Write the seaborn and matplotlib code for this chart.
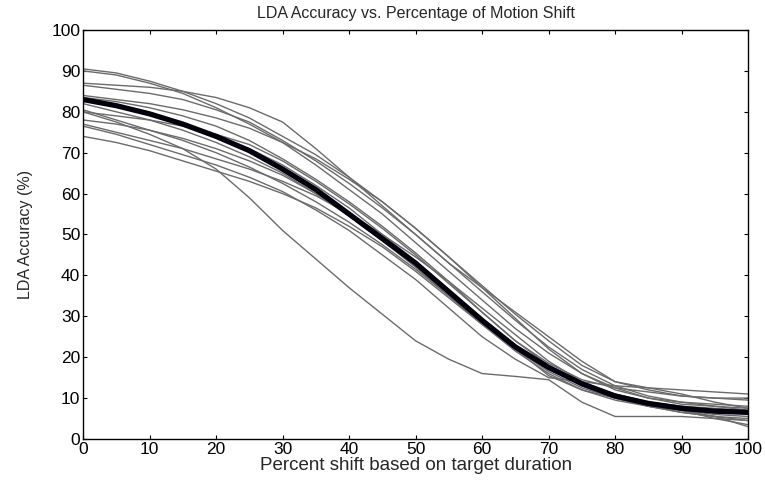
import numpy as np
import pandas as pd
import matplotlib
matplotlib.use("Agg")
import matplotlib.pyplot as plt
import seaborn as sns

shift = [0, 5, 10, 15, 20, 25, 30, 35, 40, 45, 50, 55, 60, 65, 70, 75, 80, 85, 90, 95, 100]

run_01 = [90.5, 89.5, 87.5, 85, 82, 78.5, 74, 69.5, 64, 58, 51.5, 44.5, 37.5, 30.5, 24, 18, 14, 12, 10.5, 10, 9.5]
run_02 = [90, 89, 87, 84.5, 81, 77, 72.5, 67, 61, 55, 48, 41, 34, 27, 21, 16, 12.5, 10, 8.5, 8, 7.5]
run_03 = [87, 86.5, 86, 85, 83.5, 81, 77.5, 71, 64, 57, 50, 43, 37, 31, 25, 19, 14, 12.5, 12, 11.5, 11]
run_04 = [84, 83, 82, 80.5, 78.5, 76, 72.5, 68.5, 63.5, 58, 51.5, 44.5, 37, 29.5, 22, 16, 12, 10, 9, 8.5, 8]
run_05 = [83.5, 82.5, 81, 79, 76.5, 73, 68.5, 63.5, 58, 52, 45.5, 38.5, 31, 24, 18, 14, 11, 9, 8, 7.5, 7]
run_06 = [80, 79, 78, 76.5, 74.5, 72, 68, 63, 57.5, 51.5, 45, 38, 31, 24, 18.5, 14.5, 12.5, 11.5, 10.5, 10, 10]
run_07 = [80, 77.5, 74.5, 71, 66, 59, 51, 44, 37, 30.5, 24, 19.5, 16, 15.3, 14.5, 9, 5.5, 5.5, 5.5, 5, 4.5]
run_08 = [77, 75, 73, 71, 68.5, 66, 63, 59.5, 55, 50, 44.5, 38.5, 32, 25.5, 19, 14, 10, 8, 6.5, 5.5, 5]
run_09 = [74, 72.5, 70.5, 68, 65.5, 63, 60, 56.5, 52, 47, 41, 34.5, 28, 22, 17, 13.5, 11, 9, 8, 7, 6.5]
run_10 = [80.5, 78, 75.5, 73, 70, 66.5, 62.5, 58, 53, 47.5, 41.5, 35, 28.5, 22, 16.5, 12.5, 10, 8, 6.5, 5.5, 4.5]
run_11 = [82, 80, 78, 75.5, 72.5, 69, 65, 60, 54.5, 48.5, 42, 35, 28, 21.5, 16, 12, 9.5, 8, 7, 6, 5.5]
run_12 = [78, 77, 75.5, 73.5, 71, 68, 64.5, 60, 55, 49.5, 43, 36, 29, 22, 15.5, 12, 10, 8.5, 7, 5.5, 3]
run_13 = [76.5, 74.5, 72, 69.5, 67, 64, 60.5, 56, 51, 45, 39, 32, 25, 19.5, 15, 14, 13, 12.5, 11, 9, 7.5]
run_14 = [83, 81.5, 79.5, 77, 74, 71, 67, 62, 56.5, 50, 43.5, 36.5, 29.5, 23, 17.5, 13, 10.5, 8.5, 7, 5, 3.5]
run_15 = [86.5, 85.5, 84.5, 83, 80.5, 77.5, 73, 68, 62.5, 56.5, 50, 43, 36, 29, 22.5, 17, 13, 10.5, 9, 8, 7]

mean_acc = [83, 81.5, 79.5, 77, 74, 70.5, 66, 61, 55, 49, 43, 36, 29, 22.5, 17.5, 13.5, 10.5, 8.7, 7.5, 6.8, 6.5]

runs = [run_01, run_02, run_03, run_04, run_05, run_06, run_07, run_08,
        run_09, run_10, run_11, run_12, run_13, run_14, run_15]

rows = []
for i, r in enumerate(runs):
    for s, v in zip(shift, r):
        rows.append({"run": i, "shift": s, "acc": v})
df = pd.DataFrame(rows)
df_mean = pd.DataFrame({"shift": shift, "acc": mean_acc})

sns.set_style("ticks")
plt.rcParams["font.family"] = ["Liberation Sans", "DejaVu Sans"]

fig = plt.figure(figsize=(7.65, 4.84), dpi=100)
ax = fig.add_axes([0.1085, 0.093, 0.8695, 0.845])

sns.lineplot(data=df, x="shift", y="acc", units="run", estimator=None,
             color="#6b6b6b", linewidth=1.0, ax=ax, legend=False)
sns.lineplot(data=df_mean, x="shift", y="acc", color="#00000d",
             linewidth=3.8, ax=ax, legend=False)

ax.set_xlim(0, 100)
ax.set_ylim(0, 100)
ax.set_xticks(range(0, 101, 10))
ax.set_yticks(range(0, 101, 10))
ax.tick_params(direction="in", length=3, width=0.8, top=True, right=True,
               labelsize=12.5, colors="black", pad=2)
for sp in ax.spines.values():
    sp.set_visible(True)
    sp.set_linewidth(1.0)
    sp.set_color("black")

ax.set_title("LDA Accuracy vs. Percentage of Motion Shift", fontsize=11.5, pad=9)
ax.set_xlabel("Percent shift based on target duration", fontsize=13.5, labelpad=0)
ax.set_ylabel("LDA Accuracy (%)", fontsize=11.5, labelpad=13)

fig.savefig("out.png", dpi=100)
